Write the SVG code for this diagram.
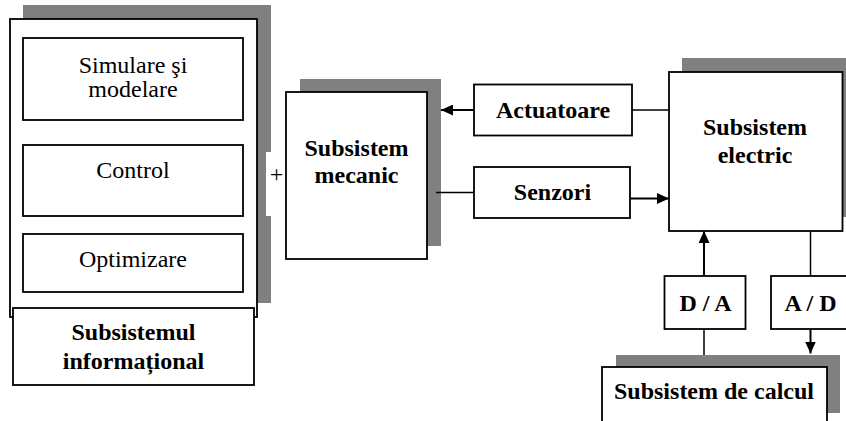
<svg xmlns="http://www.w3.org/2000/svg" width="846" height="421" viewBox="0 0 846 421">
<style>
.shadow{fill:#808080;stroke:none}
.box{fill:#fff;stroke:#000;stroke-width:1.8}
.t{font-family:"Liberation Serif","Times New Roman",serif;font-size:24px;fill:#000;text-anchor:middle}
.b{font-weight:bold}
.ln{stroke:#000;stroke-width:1.5;fill:none}
.ar{stroke:#000;stroke-width:2;fill:none;marker-end:url(#ah)}
</style>
<defs>
<marker id="ah" viewBox="0 0 12 11" refX="12" refY="5.5" markerWidth="12" markerHeight="11" markerUnits="userSpaceOnUse" orient="auto">
<path d="M0,0 L12,5.5 L0,11 Z" fill="#000"/>
</marker>
</defs>
<rect width="846" height="421" fill="#fff"/>

<g id="informational">
<rect class="shadow" x="23" y="5" width="248" height="298"/>
<rect class="box" x="10" y="19" width="247" height="298"/>
<g id="simulare">
<rect class="box" x="23" y="38" width="220" height="82" stroke-width="1.5"/>
<text class="t" x="133" y="72.5">Simulare şi</text>
<text class="t" x="133" y="97">modelare</text>
</g>
<g id="control">
<rect class="box" x="23" y="145" width="220" height="71" stroke-width="1.5"/>
<text class="t" x="133" y="177.5">Control</text>
</g>
<g id="optimizare">
<rect class="box" x="23" y="234" width="220" height="58" stroke-width="1.5"/>
<text class="t" x="133" y="266.5">Optimizare</text>
</g>
<g id="subsistemul-informational">
<rect class="box" x="13" y="308" width="241" height="77"/>
<text class="t b" x="133.5" y="340">Subsistemul</text>
<text class="t b" x="133.5" y="369">informațional</text>
</g>
</g>

<g id="plus">
<rect x="266" y="152" width="19" height="64" fill="#fff"/>
<text class="t" x="276.5" y="182">+</text>
</g>

<g id="mecanic">
<rect class="shadow" x="300" y="79" width="141" height="167"/>
<rect class="box" x="286" y="92" width="141" height="167"/>
<text class="t b" x="356.5" y="155.5">Subsistem</text>
<text class="t b" x="356.5" y="183">mecanic</text>
</g>

<g id="actuatoare">
<rect class="box" x="474" y="84.5" width="158" height="51" stroke-width="1.5"/>
<text class="t b" x="553" y="117.5">Actuatoare</text>
</g>

<g id="senzori">
<rect class="box" x="474" y="167" width="156" height="51" stroke-width="1.5"/>
<text class="t b" x="552.5" y="199.5">Senzori</text>
</g>

<g id="electric">
<rect class="shadow" x="682" y="58" width="170" height="159"/>
<rect class="box" x="669" y="72" width="173.5" height="159"/>
<text class="t b" x="755" y="134.5">Subsistem</text>
<text class="t b" x="755" y="162.5">electric</text>
</g>

<g id="da">
<rect class="box" x="664.5" y="276" width="81" height="53" stroke-width="1.5"/>
<text class="t b" x="705.5" y="310.5">D / A</text>
</g>

<g id="ad">
<rect class="box" x="771" y="276" width="80" height="53" stroke-width="1.5"/>
<text class="t b" x="810.5" y="310.5">A / D</text>
</g>

<g id="calcul">
<rect class="shadow" x="616" y="355" width="224" height="58"/>
<rect class="box" x="602" y="367" width="225" height="70"/>
<text class="t b" x="714" y="398.5">Subsistem de calcul</text>
</g>

<g id="connectors">
<line class="ar" x1="474" y1="110" x2="441" y2="110"/>
<line class="ln" x1="632" y1="110" x2="669" y2="110"/>
<line class="ln" x1="436" y1="192.5" x2="474" y2="192.5"/>
<line class="ar" x1="630" y1="198.5" x2="669" y2="198.5"/>
<line class="ar" x1="704" y1="276" x2="704" y2="231"/>
<line class="ln" x1="704" y1="329" x2="704" y2="355"/>
<line class="ln" x1="810.5" y1="231" x2="810.5" y2="276"/>
<line class="ar" x1="810.5" y1="329" x2="810.5" y2="353.5"/>
</g>
</svg>
